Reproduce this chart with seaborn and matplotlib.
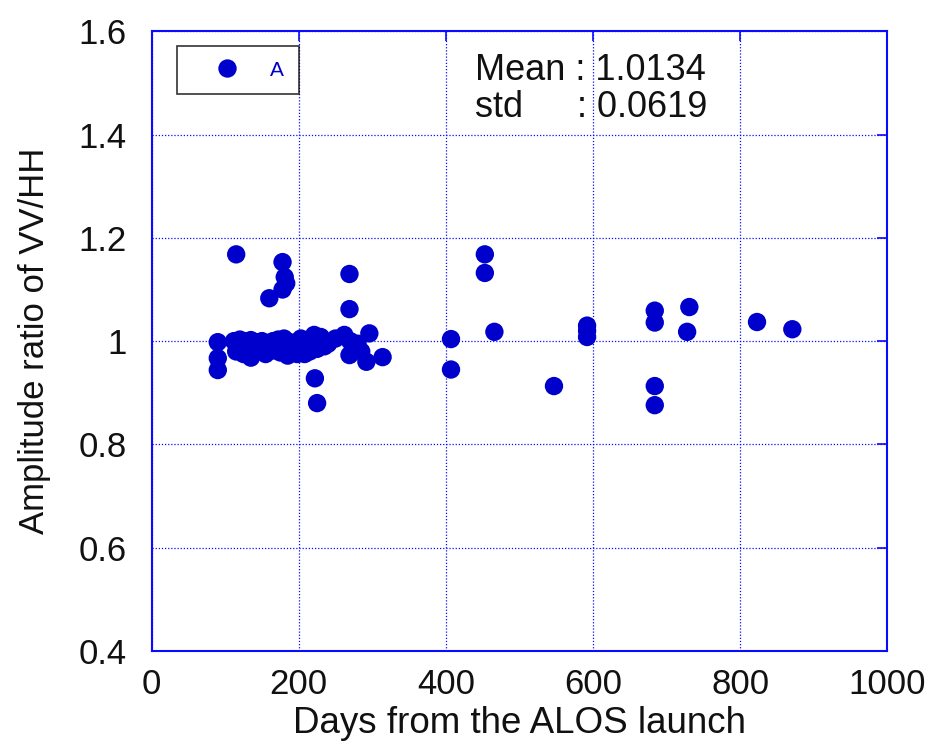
import matplotlib
matplotlib.use("Agg")
import matplotlib.pyplot as plt
import pandas as pd
import seaborn as sns

# Days from launch and VV/HH amplitude ratio
days = [
    90, 90, 90, 115,
    112, 120, 128, 135, 142, 150, 158, 165, 172, 180, 188,
    115, 125, 135, 145, 155, 165, 175, 185,
    160, 178, 181, 178, 183,
    195, 203, 212, 221, 230, 240, 250, 262, 270, 280, 296,
    198, 208, 215, 225, 235, 269, 292, 314, 285,
    222, 225, 269, 269,
    407, 407, 453, 453, 466, 547,
    592, 592, 592, 684, 684, 684, 684, 731, 728, 823, 871,
]
ratio = [
    0.998, 0.967, 0.944, 1.168,
    1.000, 1.003, 1.000, 1.002, 0.998, 1.000, 0.995, 1.000, 1.003, 1.005, 0.998,
    0.980, 0.975, 0.968, 0.985, 0.975, 0.982, 0.978, 0.972,
    1.083, 1.100, 1.124, 1.153, 1.112,
    0.990, 1.005, 0.986, 1.012, 1.008, 0.995, 1.005, 1.012, 1.000, 0.995, 1.015,
    0.975, 0.975, 0.980, 0.985, 0.990, 0.973, 0.960, 0.969, 0.980,
    0.928, 0.880, 1.130, 1.062,
    1.004, 0.945, 1.168, 1.132, 1.018, 0.913,
    1.030, 1.020, 1.008, 1.059, 1.036, 0.913, 0.876, 1.066, 1.018, 1.037, 1.023,
]
group = ["A"] * len(days)

x_ticks = [0, 200, 400, 600, 800, 1000]
y_ticks = [0.4, 0.6, 0.8, 1.0, 1.2, 1.4, 1.6]
y_tick_labels = ["0.4", "0.6", "0.8", "1", "1.2", "1.4", "1.6"]

df = pd.DataFrame({"days": days, "ratio": ratio, "group": group})

blue = "#0000cd"
frame_blue = "#0a0aff"

sns.set_style("white")
plt.rcParams["font.family"] = ["Liberation Sans", "DejaVu Sans"]

fig = plt.figure(figsize=(9.3, 7.44), dpi=100)
ax = fig.add_axes([0.163, 0.125, 0.791, 0.833])

sns.scatterplot(data=df, x="days", y="ratio", hue="group", palette={"A": blue},
                s=175, edgecolor="none", linewidth=0, ax=ax, zorder=3)

ax.set_xlim(0, 1000)
ax.set_ylim(0.4, 1.6)
ax.set_xticks(x_ticks)
ax.set_yticks(y_ticks)
ax.set_yticklabels(y_tick_labels)
ax.tick_params(axis="both", labelsize=25, colors=frame_blue, labelcolor="#111111",
               direction="in", length=7, width=1.2, top=True, right=True)
ax.tick_params(axis="y", pad=18)
ax.tick_params(axis="x", pad=12)
ax.grid(True, color=frame_blue, linestyle=(0, (1, 1.5)), linewidth=0.9)
for sp in ax.spines.values():
    sp.set_color(frame_blue)
    sp.set_linewidth(1.5)

ax.set_xlabel("Days from the ALOS launch", fontsize=26.5, color="#111111", labelpad=4)
ax.set_ylabel("Amplitude ratio of VV/HH", fontsize=25, color="#111111", labelpad=20)

ax.text(440, 1.524, "Mean : 1.0134", fontsize=26, va="center", color="#111111")
ax.text(440, 1.453, "std", fontsize=26, va="center", color="#111111")
ax.text(578, 1.453, ": 0.0619", fontsize=26, va="center", color="#111111")

leg = ax.legend(loc="upper left", bbox_to_anchor=(0.034, 0.976), frameon=True,
                fancybox=False, fontsize=15, handletextpad=0.4, borderpad=0.7,
                handlelength=3.4, borderaxespad=0, markerscale=1.0)
leg.get_frame().set_edgecolor("black")
leg.get_frame().set_linewidth(1.2)
for t in leg.get_texts():
    t.set_color(blue)

fig.savefig("out.png", dpi=100)
